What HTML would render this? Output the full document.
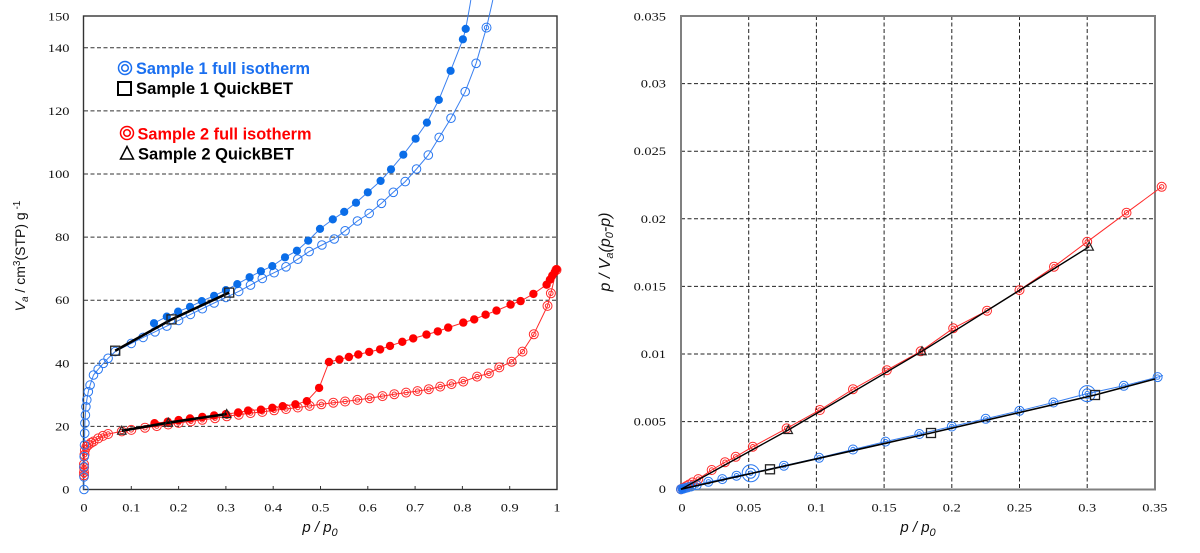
<!DOCTYPE html>
<html><head><meta charset="utf-8"><style>
html,body{margin:0;padding:0;background:#fff;width:1200px;height:553px;overflow:hidden}
svg{display:block}
.t{font-family:"Liberation Serif",serif;font-size:12px;fill:#111}
.lg{font-family:"Liberation Sans",sans-serif;font-weight:bold;font-size:17px}
.ax{font-family:"Liberation Sans",sans-serif;fill:#111}
</style></head><body>
<svg width="1200" height="553" viewBox="0 0 1200 553" xmlns="http://www.w3.org/2000/svg">
<defs>
<marker id="ob" viewBox="-7 -7 14 14" markerWidth="14" markerHeight="14" refX="0" refY="0" markerUnits="userSpaceOnUse" orient="0" overflow="visible"><circle r="4.3" fill="none" stroke="#2a78f0" stroke-width="1"/></marker>
<marker id="fb" viewBox="-7 -7 14 14" markerWidth="14" markerHeight="14" refX="0" refY="0" markerUnits="userSpaceOnUse" orient="0" overflow="visible"><circle r="4.1" fill="#0a6de8"/></marker>
<marker id="dr" viewBox="-7 -7 14 14" markerWidth="14" markerHeight="14" refX="0" refY="0" markerUnits="userSpaceOnUse" orient="0" overflow="visible"><circle r="4.5" fill="none" stroke="#ff2a2a" stroke-width="1"/><circle r="2.2" fill="none" stroke="#ff2a2a" stroke-width="1"/></marker>
<marker id="fr" viewBox="-7 -7 14 14" markerWidth="14" markerHeight="14" refX="0" refY="0" markerUnits="userSpaceOnUse" orient="0" overflow="visible"><circle r="4.2" fill="#ff0000"/></marker>
<marker id="db" viewBox="-7 -7 14 14" markerWidth="14" markerHeight="14" refX="0" refY="0" markerUnits="userSpaceOnUse" orient="0" overflow="visible"><circle r="4.5" fill="none" stroke="#2a78f0" stroke-width="1"/><circle r="2.2" fill="none" stroke="#2a78f0" stroke-width="1"/></marker>
<marker id="sq" viewBox="-7 -7 14 14" markerWidth="14" markerHeight="14" refX="0" refY="0" markerUnits="userSpaceOnUse" orient="0" overflow="visible"><rect x="-4.5" y="-4.5" width="9" height="9" fill="none" stroke="#222" stroke-width="1.3"/></marker>
<marker id="tr" viewBox="-7 -7 14 14" markerWidth="14" markerHeight="14" refX="0" refY="0" markerUnits="userSpaceOnUse" orient="0" overflow="visible"><path d="M0,-4.5 L-4.2,3.5 L4.2,3.5 Z" fill="none" stroke="#222" stroke-width="1.2"/></marker>
</defs>

<!-- LEFT CHART grid -->
<g stroke="#333" stroke-width="1" stroke-dasharray="4 2.5" fill="none">
<path d="M84,426.4H557M84,363.3H557M84,300.2H557M84,237.1H557M84,174H557M84,110.9H557M84,47.8H557"/>
</g>
<rect x="83.5" y="16" width="473.5" height="473.5" fill="none" stroke="#333" stroke-width="1.4"/>
<path d="M131.3,489.5v-3.5M178.6,489.5v-3.5M225.9,489.5v-3.5M273.2,489.5v-3.5M320.5,489.5v-3.5M367.8,489.5v-3.5M415.1,489.5v-3.5M462.4,489.5v-3.5M509.7,489.5v-3.5" stroke="#333" stroke-width="1"/>

<!-- left y labels -->
<g class="t" text-anchor="end">
<text transform="translate(69.5,493.5) scale(1.2,1)">0</text>
<text transform="translate(69.5,430.4) scale(1.2,1)">20</text>
<text transform="translate(69.5,367.3) scale(1.2,1)">40</text>
<text transform="translate(69.5,304.2) scale(1.2,1)">60</text>
<text transform="translate(69.5,241.1) scale(1.2,1)">80</text>
<text transform="translate(69.5,178) scale(1.2,1)">100</text>
<text transform="translate(69.5,114.9) scale(1.2,1)">120</text>
<text transform="translate(69.5,51.8) scale(1.2,1)">140</text>
<text transform="translate(69.5,20.5) scale(1.2,1)">150</text>
</g>
<g class="t" text-anchor="middle">
<text transform="translate(84,511.5) scale(1.2,1)">0</text>
<text transform="translate(131.3,511.5) scale(1.2,1)">0.1</text>
<text transform="translate(178.6,511.5) scale(1.2,1)">0.2</text>
<text transform="translate(225.9,511.5) scale(1.2,1)">0.3</text>
<text transform="translate(273.2,511.5) scale(1.2,1)">0.4</text>
<text transform="translate(320.5,511.5) scale(1.2,1)">0.5</text>
<text transform="translate(367.8,511.5) scale(1.2,1)">0.6</text>
<text transform="translate(415.1,511.5) scale(1.2,1)">0.7</text>
<text transform="translate(462.4,511.5) scale(1.2,1)">0.8</text>
<text transform="translate(509.7,511.5) scale(1.2,1)">0.9</text>
<text transform="translate(557,511.5) scale(1.2,1)">1</text>
</g>
<text class="ax" x="320" y="532" text-anchor="middle" font-size="15" font-style="italic">p / p<tspan font-size="11" dy="4">0</tspan></text>
<text class="ax" transform="translate(25,256) rotate(-90)" text-anchor="middle" font-size="14"><tspan font-style="italic">V</tspan><tspan font-style="italic" font-size="10" dy="3">a</tspan><tspan dy="-3"> / cm</tspan><tspan font-size="10" dy="-5">3</tspan><tspan dy="5">(STP) g</tspan><tspan font-size="10" dy="-5"> -1</tspan></text>

<!-- legend -->
<circle cx="125" cy="68" r="6.5" fill="none" stroke="#1a6ff0" stroke-width="1.5"/>
<circle cx="125" cy="68" r="3.3" fill="none" stroke="#1a6ff0" stroke-width="1.5"/>
<text class="lg" x="136" y="74" fill="#1a6ff0" textLength="174" lengthAdjust="spacingAndGlyphs">Sample 1 full isotherm</text>
<rect x="118" y="82" width="13" height="13" fill="none" stroke="#000" stroke-width="2"/>
<text class="lg" x="136" y="94" fill="#000" textLength="157" lengthAdjust="spacingAndGlyphs">Sample 1 QuickBET</text>
<circle cx="127" cy="133" r="6.5" fill="none" stroke="#ff0000" stroke-width="1.5"/>
<circle cx="127" cy="133" r="3.3" fill="none" stroke="#ff0000" stroke-width="1.5"/>
<text class="lg" x="137.5" y="139.3" fill="#ff0000" textLength="174" lengthAdjust="spacingAndGlyphs">Sample 2 full isotherm</text>
<path d="M127,146.5 L120.5,159 L133.5,159 Z" fill="none" stroke="#000" stroke-width="1.5"/>
<text class="lg" x="138" y="159.3" fill="#000" textLength="156" lengthAdjust="spacingAndGlyphs">Sample 2 QuickBET</text>

<!-- left series: lines -->
<g fill="none" stroke-width="1">
<polyline stroke="#3a80f0" points="84,489.5 84,476.9 84,466.8 84.2,456.7 84.5,445 84.7,433.3 84.9,423.2 85.4,415 85.9,406.8 86.8,399.9 88.3,391.7 90.1,385.1 93.5,375 98.2,369.3 103.4,363.3 108.1,358.3 115.2,351.6 131.3,343.4 143.1,337.4 155,331.8 166.8,326.1 178.6,320.4 190.4,314.4 202.3,308.7 214.1,303 225.9,297.4 238.7,291.4 250.5,285.1 262.3,278.4 274.1,272.7 286,266.8 297.8,259.2 309.1,251.6 321.9,245 334.2,239 345.1,230.8 357.4,221 369.2,213.4 381.5,203.3 393.3,192.3 405.2,181.6 416.5,169 428.3,155.1 439.2,137.4 451,118.2 465.2,91.7 476.1,63.3 486.5,27.6 491.7,5 492.8,0"/>
<polyline stroke="#3a80f0" points="154,323.2 166.8,316.6 178.1,311.6 190,306.8 201.8,301.1 214.1,295.8 225.9,290.1 237.3,284.1 249.6,277.2 260.9,271.2 272.3,266.1 285,257.3 296.9,250.7 308.2,240.6 320,228.9 332.8,219.4 344.2,211.9 356,202.7 367.8,192.3 380.6,180.9 391,169.3 403.3,154.7 415.6,138.7 426.9,122.6 438.8,99.9 450.6,70.8 462.9,39.3 465.7,28.9 470,5 470.8,0"/>
<polyline stroke="#ff2a2a" points="84,475.3 84,472.2 84,467.4 84,464.3 84.5,454.8 84.9,450.1 86.4,446.9 88.3,445 91.1,442.8 93.5,441.5 98.2,438.4 102.9,435.9 108.1,434 121.8,431.4 131.3,429.9 145,427.7 156.8,426.1 168.2,424.5 178.6,422.9 190.9,421.4 202.3,419.8 215,418.2 226.8,416.3 238.7,414.7 250.5,413.1 262.3,411.9 274.1,410.3 286,409 297.8,407.5 309.6,405.9 321.4,404.3 333.3,402.7 345.1,401.5 357.4,399.9 369.7,398.3 382.5,396.1 394.3,394.2 406.1,392.6 417.5,391.1 428.8,389.2 440.2,386.6 451.5,384.1 463.3,381.6 477.1,376.6 488.9,373.4 499.3,367.4 511.6,361.7 522.5,351.6 533.8,334.3 547.5,305.9 550.9,293.3 556.5,269.9"/>
<polyline stroke="#ff2a2a" points="154.5,423.2 167.7,421.7 178.6,420.1 190,418.5 202.3,416.9 214.1,415.4 225.9,414.1 238.2,412.5 248.1,410.6 260.9,409.7 272.3,407.8 282.7,406.2 295.4,404.3 306.8,401.2 319.1,387.9 329,362 339.4,359.5 348.9,357 358.3,354.5 369.2,351.9 380.1,349.4 390,345.9 402.3,341.8 413.2,338.4 426.5,334.6 437.8,331.4 448.2,327.6 463.3,322.6 474.2,319.4 485.6,314.7 496.5,310.6 510.6,304.6 520.6,301.1 533.4,293.9 546.6,284.7 549.9,279.7 552.3,275.6 554.6,272.4 556.5,269.3"/>
</g>
<!-- left series: markers -->
<g fill="none" stroke="none">
<polyline marker-start="url(#dr)" marker-mid="url(#dr)" marker-end="url(#dr)" points="84,475.3 84,472.2 84,467.4 84,464.3 84.5,454.8 84.9,450.1 86.4,446.9 88.3,445 91.1,442.8 93.5,441.5 98.2,438.4 102.9,435.9 108.1,434 121.8,431.4 131.3,429.9 145,427.7 156.8,426.1 168.2,424.5 178.6,422.9 190.9,421.4 202.3,419.8 215,418.2 226.8,416.3 238.7,414.7 250.5,413.1 262.3,411.9 274.1,410.3 286,409 297.8,407.5 309.6,405.9 321.4,404.3 333.3,402.7 345.1,401.5 357.4,399.9 369.7,398.3 382.5,396.1 394.3,394.2 406.1,392.6 417.5,391.1 428.8,389.2 440.2,386.6 451.5,384.1 463.3,381.6 477.1,376.6 488.9,373.4 499.3,367.4 511.6,361.7 522.5,351.6 533.8,334.3 547.5,305.9 550.9,293.3 556.5,269.9"/>
<polyline marker-start="url(#fr)" marker-mid="url(#fr)" marker-end="url(#fr)" points="154.5,423.2 167.7,421.7 178.6,420.1 190,418.5 202.3,416.9 214.1,415.4 225.9,414.1 238.2,412.5 248.1,410.6 260.9,409.7 272.3,407.8 282.7,406.2 295.4,404.3 306.8,401.2 319.1,387.9 329,362 339.4,359.5 348.9,357 358.3,354.5 369.2,351.9 380.1,349.4 390,345.9 402.3,341.8 413.2,338.4 426.5,334.6 437.8,331.4 448.2,327.6 463.3,322.6 474.2,319.4 485.6,314.7 496.5,310.6 510.6,304.6 520.6,301.1 533.4,293.9 546.6,284.7 549.9,279.7 552.3,275.6 554.6,272.4 556.5,269.3"/>
<polyline marker-start="url(#ob)" marker-mid="url(#ob)" marker-end="url(#ob)" points="84,489.5 84,476.9 84,466.8 84.2,456.7 84.5,445 84.7,433.3 84.9,423.2 85.4,415 85.9,406.8 86.8,399.9 88.3,391.7 90.1,385.1 93.5,375 98.2,369.3 103.4,363.3 108.1,358.3 115.2,351.6 131.3,343.4 143.1,337.4 155,331.8 166.8,326.1 178.6,320.4 190.4,314.4 202.3,308.7 214.1,303 225.9,297.4 238.7,291.4 250.5,285.1 262.3,278.4 274.1,272.7 286,266.8 297.8,259.2 309.1,251.6 321.9,245 334.2,239 345.1,230.8 357.4,221 369.2,213.4 381.5,203.3 393.3,192.3 405.2,181.6 416.5,169 428.3,155.1 439.2,137.4 451,118.2 465.2,91.7 476.1,63.3"/>
<polyline marker-start="url(#fb)" marker-mid="url(#fb)" marker-end="url(#fb)" points="154,323.2 166.8,316.6 178.1,311.6 190,306.8 201.8,301.1 214.1,295.8 225.9,290.1 237.3,284.1 249.6,277.2 260.9,271.2 272.3,266.1 285,257.3 296.9,250.7 308.2,240.6 320,228.9 332.8,219.4 344.2,211.9 356,202.7 367.8,192.3 380.6,180.9 391,169.3 403.3,154.7 415.6,138.7 426.9,122.6 438.8,99.9 450.6,70.8 462.9,39.3 465.7,28.9"/>
</g>
<circle cx="486.5" cy="27.6" r="4.5" fill="none" stroke="#2a78f0" stroke-width="1"/>
<circle cx="486.5" cy="27.6" r="2.2" fill="none" stroke="#2a78f0" stroke-width="1"/>
<!-- left QuickBET -->
<polyline points="115.2,350.7 171.5,319.4 229.2,292.6" fill="none" stroke="#000" stroke-width="2.6" marker-start="url(#sq)" marker-mid="url(#sq)" marker-end="url(#sq)"/>
<polyline points="121.8,430.7 168.3,422.7 226.7,414" fill="none" stroke="#000" stroke-width="2.6" marker-start="url(#tr)" marker-mid="url(#tr)" marker-end="url(#tr)"/>

<!-- RIGHT CHART grid -->
<g stroke="#222" stroke-width="1" stroke-dasharray="4 2.5" fill="none">
<path d="M681,421.6H1155M681,354H1155M681,286.4H1155M681,218.8H1155M681,151.2H1155M681,83.6H1155"/>
<path d="M748.7,16V489M816.4,16V489M884.1,16V489M951.8,16V489M1019.5,16V489M1087.2,16V489"/>
</g>
<rect x="681" y="16" width="474" height="473.5" fill="none" stroke="#808080" stroke-width="2"/>
<g class="t" text-anchor="end">
<text transform="translate(666,493.2) scale(1.2,1)">0</text>
<text transform="translate(666,425.6) scale(1.2,1)">0.005</text>
<text transform="translate(666,358) scale(1.2,1)">0.01</text>
<text transform="translate(666,290.4) scale(1.2,1)">0.015</text>
<text transform="translate(666,222.8) scale(1.2,1)">0.02</text>
<text transform="translate(666,155.2) scale(1.2,1)">0.025</text>
<text transform="translate(666,87.6) scale(1.2,1)">0.03</text>
<text transform="translate(666,20.4) scale(1.2,1)">0.035</text>
</g>
<g class="t" text-anchor="middle">
<text transform="translate(682,511.5) scale(1.2,1)">0</text>
<text transform="translate(748.7,511.5) scale(1.2,1)">0.05</text>
<text transform="translate(816.4,511.5) scale(1.2,1)">0.1</text>
<text transform="translate(884.1,511.5) scale(1.2,1)">0.15</text>
<text transform="translate(951.8,511.5) scale(1.2,1)">0.2</text>
<text transform="translate(1019.5,511.5) scale(1.2,1)">0.25</text>
<text transform="translate(1087.2,511.5) scale(1.2,1)">0.3</text>
<text transform="translate(1154.9,511.5) scale(1.2,1)">0.35</text>
</g>
<text class="ax" x="918" y="532" text-anchor="middle" font-size="15" font-style="italic">p / p<tspan font-size="11" dy="4">0</tspan></text>
<text class="ax" transform="translate(610,252) rotate(-90)" text-anchor="middle" font-size="16" font-style="italic">p / V<tspan font-size="11" dy="3">a</tspan><tspan dy="-3">(p</tspan><tspan font-size="11" dy="3">0</tspan><tspan dy="-3">-p)</tspan></text>

<!-- right series lines -->
<g fill="none" stroke-width="1">
<polyline stroke="#ff2a2a" points="681,489.2 682.4,488.4 683.7,487.6 686.4,486.1 689.1,484.5 692.5,482.4 698.3,479.1 711.7,470 725,462.2 735.7,456.8 752.8,446.7 786.6,428.4 819.9,410 853,389.2 886.8,370.2 920.7,351.3 953.2,328.3 987,310.7 1019.5,290.1 1054,266.7 1087.2,241.8 1126.5,212.7 1161.7,186.8"/>
<polyline stroke="#3a80f0" points="681,489.2 682.4,488.8 683.7,488.5 685.1,488.1 687.8,487.4 691.2,486.5 696.7,485.1 708.4,481.8 722.3,479.1 736.5,475.7 750.7,473.2 783.9,465.7 819.1,457.8 853,449.5 885.5,441.6 919.3,434 951.8,426.5 985.7,418.8 1019.5,410.8 1053.4,402.5 1087.2,393.6 1123.8,385.8 1157.6,377.1 1163,375.5"/>
</g>
<g fill="none" stroke="none">
<polyline marker-start="url(#dr)" marker-mid="url(#dr)" marker-end="url(#dr)" points="681,489.2 682.4,488.4 683.7,487.6 686.4,486.1 689.1,484.5 692.5,482.4 698.3,479.1 711.7,470 725,462.2 735.7,456.8 752.8,446.7 786.6,428.4 819.9,410 853,389.2 886.8,370.2 920.7,351.3 953.2,328.3 987,310.7 1019.5,290.1 1054,266.7 1087.2,241.8 1126.5,212.7 1161.7,186.8"/>
<polyline marker-start="url(#db)" marker-mid="url(#db)" marker-end="url(#db)" points="681,489.2 682.4,488.8 683.7,488.5 685.1,488.1 687.8,487.4 691.2,486.5 696.7,485.1 708.4,481.8 722.3,479.1 736.5,475.7 783.9,465.7 819.1,457.8 853,449.5 885.5,441.6 919.3,434 951.8,426.5 985.7,418.8 1019.5,410.8 1053.4,402.5 1123.8,385.8 1157.6,377.1"/>
</g>
<g fill="none" stroke="#2a78f0" stroke-width="1">
<circle cx="750.7" cy="473.2" r="8.5"/><circle cx="750.7" cy="473.2" r="5"/><circle cx="750.7" cy="473.2" r="2.2"/>
<circle cx="1087.2" cy="393.6" r="8"/><circle cx="1087.2" cy="393.6" r="4.8"/><circle cx="1087.2" cy="393.6" r="2.2"/>
</g>
<circle cx="682.5" cy="489" r="4" fill="#1a6ff0"/>
<!-- right QuickBET -->
<polyline points="681,489.2 788.3,430 922,351.3 1089.2,246.7" fill="none" stroke="#000" stroke-width="1.4"/>
<polyline points="681,489.2 770,469.3 931,433 1095,395 1155,379" fill="none" stroke="#000" stroke-width="1.6"/>
<g fill="none" stroke="none">
<polyline marker-start="url(#tr)" marker-mid="url(#tr)" marker-end="url(#tr)" points="788.3,430 922,351.3 1089.2,246.7"/>
<polyline marker-start="url(#sq)" marker-mid="url(#sq)" marker-end="url(#sq)" points="770,469.3 931,433 1095,395"/>
</g>
</svg>
</body></html>
